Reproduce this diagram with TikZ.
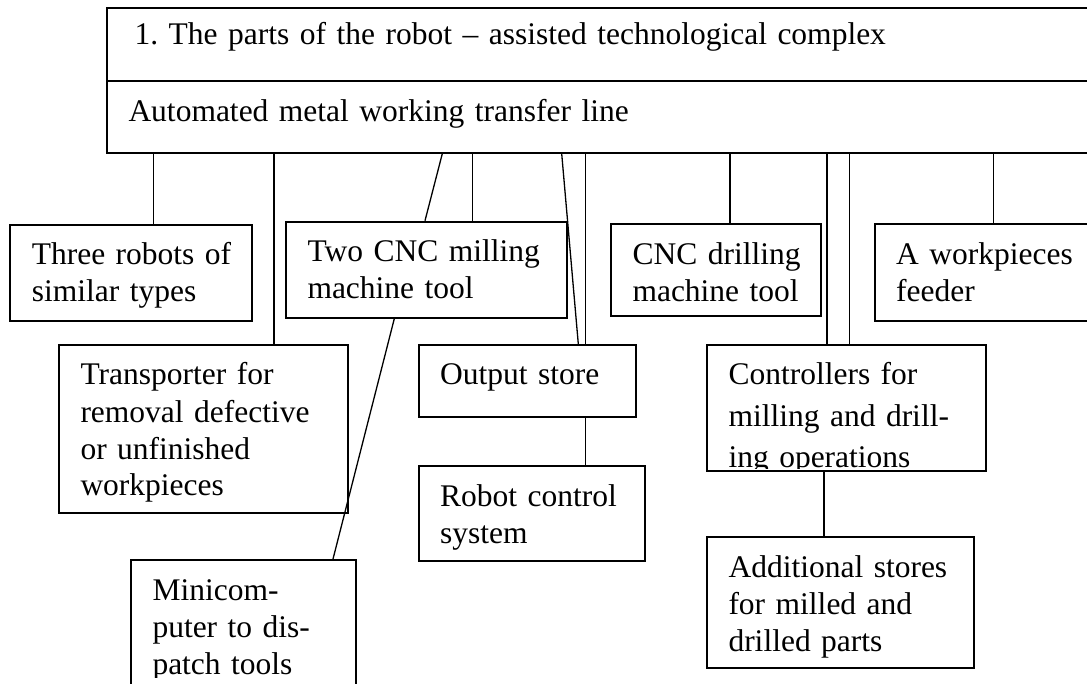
\documentclass[tikz,border=0pt]{standalone}
\usepackage{fontspec}
\setmainfont{Liberation Serif}

\begin{document}
\begin{tikzpicture}[x=1pt, y=-1pt,
    part/.style={draw, line width=2pt, anchor=north west, inner sep=0pt, align=left,
      text height=40pt, font=\fontsize{31.5pt}{37pt}\selectfont,
      execute at begin node={\leftskip=21.5pt\rightskip=0pt plus 1fil}},
    parttext/.style={part, draw=none},
    link/.style={line width=1.3pt}]
    \clip (0,0) rectangle (1087,684);
    % top box, two rows
    \node[part, text width=1004pt, text height=36pt, text depth=36.7pt] (title) at (106,7.3) {\hspace*{6pt}1.\ The parts of the robot – assisted technological complex};
    \node[part, text width=1004pt, text height=41pt, text depth=30.7pt] (tline) at (106,80) {Automated metal working transfer line};
    % first row
    \node[part, text width=241.4pt, text depth=56pt] (three) at (9.3,224) {Three robots of\\similar types};
    \node[part, text width=280.7pt, text depth=56pt] (twocnc) at (285,220.7) {Two CNC milling\\machine tool};
    \node[part, text width=210.3pt, text depth=51.7pt] (drill) at (610,223.3) {CNC drilling\\machine tool};
    \node[part, text width=250pt, text depth=56.7pt] (feeder) at (873.7,223.3) {A workpieces\\feeder};
    % second row
    \node[part, text width=288.7pt, text depth=127.7pt] (trans) at (58,344) {Transporter for\\removal defective\\or unfinished\\workpieces};
    \node[part, text width=217.3pt, text depth=32pt] (output) at (417.7,344) {Output store};
    \node[part, text width=278.5pt, text depth=86pt] (ctrl) at (706,344) {};
    \begin{scope}
        \clip (706,344) rectangle (985,468);
        \node[parttext, text width=278.5pt, text depth=86pt] (ctrltext) at (706,344) {Controllers for\\[4pt]milling and drill-\\[4pt]ing operations};
    \end{scope}
    % lower boxes
    \node[part, text width=226.6pt, text depth=55pt] (robot) at (417.7,465) {Robot control\\system};
    \node[part, text width=225.3pt, text depth=100pt] (mini) at (130,559) {};
    \begin{scope}
        \clip (130,559) rectangle (355,677);
        \node[parttext, text width=225.3pt, text depth=100pt] (minitext) at (130,559) {Minicom-\\puter to dis-\\patch tools};
    \end{scope}
    \node[part, text width=267.3pt, text depth=90.7pt] (addst) at (706,536) {Additional stores\\for milled and\\drilled parts};

    \draw[link] ([xshift=47.7pt]tline.south west) -- ([xshift=144.4pt]three.north west);
    \draw[link] ([xshift=168pt]tline.south west) -- ([xshift=216pt]trans.north west);
    \draw[link] ([xshift=336.3pt]tline.south west) -- ([xshift=140pt]twocnc.north west);
    \draw[link] ([xshift=366.7pt]tline.south west) -- ([xshift=187.7pt]twocnc.north west);
    \draw[link] ([xshift=455.7pt]tline.south west) -- ([xshift=160.6pt]output.north west);
    \draw[link] ([xshift=479.7pt]tline.south west) -- ([xshift=168pt]output.north west);
    \draw[link] ([xshift=624pt]tline.south west) -- ([xshift=120pt]drill.north west);
    \draw[link] ([xshift=721pt]tline.south west) -- ([xshift=121pt]ctrl.north west);
    \draw[link] ([xshift=743.7pt]tline.south west) -- ([xshift=143.7pt]ctrl.north west);
    \draw[link] ([xshift=887.7pt]tline.south west) -- ([xshift=120pt]feeder.north west);

    \draw[link] ([xshift=109.3pt]twocnc.south west) -- ([xshift=203pt]mini.north west);
    \draw[link] ([xshift=168pt]output.south west) -- ([xshift=168pt]robot.north west);
    \draw[link] ([xshift=118pt]ctrl.south west) -- ([xshift=118pt]addst.north west);
\end{tikzpicture}
\end{document}
